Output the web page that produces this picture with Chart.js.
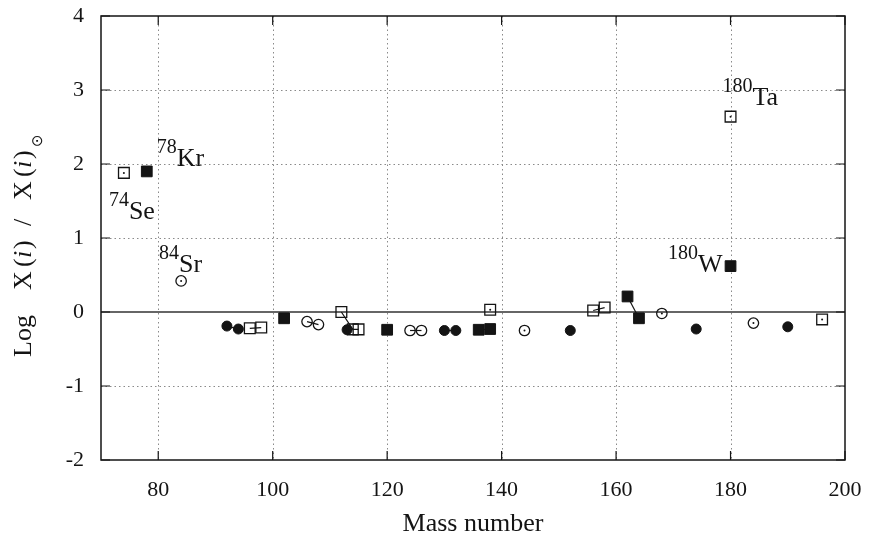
<!DOCTYPE html>
<html><head><meta charset="utf-8">
<script src="https://cdn.jsdelivr.net/npm/chart.js@4/dist/chart.umd.min.js"></script>
<style>html,body{margin:0;padding:0;background:#fff}canvas{display:block}</style>
</head><body>
<canvas id="c" width="869" height="545"></canvas>
<script>
// ---- data ----
const elements   = ['Se','Kr','Sr','Mo','Mo','Ru','Ru','Pd','Cd','Cd','Sn','In','Sn','Sn','Te','Xe','Xe','Ba','Ba','Ce','Ce','La','Sm','Gd','Dy','Dy','Er','Er','Yb','Hf','W','Ta','Os','Pt','Hg'];
const massNumber = [74,78,84,92,94,96,98,102,106,108,112,113,114,115,120,124,126,130,132,136,138,138,144,152,156,158,162,164,168,174,180,180,184,190,196];
const logRatio   = [1.88,1.90,0.42,-0.19,-0.23,-0.22,-0.21,-0.085,-0.13,-0.17,0.0,-0.24,-0.235,-0.235,-0.24,-0.25,-0.25,-0.25,-0.25,-0.24,-0.23,0.03,-0.25,-0.25,0.02,0.06,0.21,-0.085,-0.02,-0.23,0.62,2.64,-0.15,-0.2,-0.1];
// symbol class: 1 open square, 2 filled square, 3 open circle, 4 filled circle
const symbolClass = [1,2,3,4,4,1,1,2,3,3,1,4,1,1,2,3,3,4,4,2,2,1,3,4,1,1,2,2,3,4,2,1,3,4,1];
const xTickValues = [80,100,120,140,160,180,200];
const yTickValues = [-2,-1,0,1,2,3,4];
const labelElements = ['Kr','Se','Sr','Ta','W'];
const labelMass     = [78,74,84,180,180];

// ---- styles ----
const INK = '#141414';
const SERIF = '"Liberation Serif", "Times New Roman", serif';
const styleFor = {
  1: {pointStyle:'rect',   pointRadius:7.6, pointBackgroundColor:'rgba(0,0,0,0)', pointBorderColor:INK, pointBorderWidth:1.3},
  2: {pointStyle:'rect',   pointRadius:7.6, pointBackgroundColor:INK, pointBorderColor:INK, pointBorderWidth:1},
  3: {pointStyle:'circle', pointRadius:5.2, pointBackgroundColor:'rgba(0,0,0,0)', pointBorderColor:INK, pointBorderWidth:1.3},
  4: {pointStyle:'circle', pointRadius:5.0, pointBackgroundColor:INK, pointBorderColor:INK, pointBorderWidth:1}
};

// group by element (same element isotopes are joined by a line)
const groups = [];
elements.forEach((el, i) => {
  let g = groups.find(g => g.el === el);
  if (!g) { g = {el, idx: []}; groups.push(g); }
  g.idx.push(i);
});
const datasets = groups.map(g => Object.assign({
  label: g.el,
  data: g.idx.map(i => ({x: massNumber[i], y: logRatio[i]})),
  showLine: g.idx.length > 1,
  borderColor: INK, borderWidth: 1.2,
  pointHoverRadius: 0
}, styleFor[symbolClass[g.idx[0]]]));
// centre dots of isolated open symbols
const dotIdx = groups.filter(g => g.idx.length === 1 && (symbolClass[g.idx[0]] === 1 || symbolClass[g.idx[0]] === 3)).map(g => g.idx[0]);
datasets.push({
  label: 'dots', data: dotIdx.map(i => ({x: massNumber[i], y: logRatio[i]})),
  showLine: false, pointStyle: 'circle', pointRadius: 1, pointBackgroundColor: INK, pointBorderColor: INK, pointBorderWidth: 0
});

const frame = {
  id: 'frame',
  beforeDatasetsDraw(chart) {
    const {ctx, chartArea: a, scales: {x, y}} = chart;
    ctx.save();
    ctx.strokeStyle = '#8a8a8a'; ctx.lineWidth = 1; ctx.setLineDash([1.5, 3]);
    xTickValues.forEach(v => {
      if (v <= x.min || v >= x.max) return;
      const p = Math.round(x.getPixelForValue(v)) + 0.5;
      ctx.beginPath(); ctx.moveTo(p, a.top); ctx.lineTo(p, a.bottom); ctx.stroke();
    });
    yTickValues.forEach(v => {
      if (v <= y.min || v >= y.max || v === 0) return;
      const p = Math.round(y.getPixelForValue(v)) + 0.5;
      ctx.beginPath(); ctx.moveTo(a.left, p); ctx.lineTo(a.right, p); ctx.stroke();
    });
    ctx.setLineDash([]);
    ctx.strokeStyle = '#333'; ctx.lineWidth = 1.5;
    const z = Math.round(y.getPixelForValue(0));
    ctx.beginPath(); ctx.moveTo(a.left, z); ctx.lineTo(a.right, z); ctx.stroke();
    ctx.restore();
  },
  afterDatasetsDraw(chart) {
    const {ctx, chartArea: a, scales: {x, y}} = chart;
    ctx.save();
    // frame
    ctx.strokeStyle = INK; ctx.lineWidth = 1.5;
    ctx.strokeRect(a.left, a.top, a.right - a.left, a.bottom - a.top);
    // inward ticks
    const TL = 9;
    ctx.lineWidth = 1.2;
    xTickValues.forEach(v => {
      const p = x.getPixelForValue(v);
      ctx.beginPath(); ctx.moveTo(p, a.bottom); ctx.lineTo(p, a.bottom - TL);
      ctx.moveTo(p, a.top); ctx.lineTo(p, a.top + TL); ctx.stroke();
    });
    yTickValues.forEach(v => {
      const p = y.getPixelForValue(v);
      ctx.beginPath(); ctx.moveTo(a.left, p); ctx.lineTo(a.left + TL, p);
      ctx.moveTo(a.right, p); ctx.lineTo(a.right - TL, p); ctx.stroke();
    });
    // isotope labels
    ctx.fillStyle = INK;
    ctx.textBaseline = 'alphabetic'; ctx.textAlign = 'left';
    const offsets = {Kr:[10,-5,'l'], Se:[-15,46,'l'], Sr:[-22,-9,'l'], Ta:[-8,-12,'l'], W:[-8,6,'r']};
    labelElements.forEach((el, k) => {
      const i = elements.findIndex((e, j) => e === el && massNumber[j] === labelMass[k]);
      const px = x.getPixelForValue(massNumber[i]);
      const py = y.getPixelForValue(logRatio[i]);
      const [dx, dy, al] = offsets[el];
      ctx.font = '20px ' + SERIF;
      const sup = String(labelMass[k]);
      const w1 = ctx.measureText(sup).width;
      ctx.font = '26px ' + SERIF;
      const w2 = ctx.measureText(el).width;
      let left = px + dx;
      if (al === 'r') left = px + dx - w1 - w2;
      const base = py + dy;
      ctx.font = '20px ' + SERIF;
      ctx.fillText(sup, left, base - 13);
      ctx.font = '26px ' + SERIF;
      ctx.fillText(el, left + w1, base);
    });
    // x title
    ctx.font = '26px ' + SERIF; ctx.textAlign = 'center';
    ctx.fillText('Mass number', (a.left + a.right) / 2, 531);
    // y title (rotated)
    ctx.translate(31, 357); ctx.rotate(-Math.PI / 2);
    ctx.textAlign = 'left';
    const segs = [
      ['Log', 0, 'n'], ['X', 67, 'n'], ['(', 90, 'n'], ['i', 99, 'i'], [')', 108, 'n'],
      ['/', 131, 'n'], ['X', 157, 'n'], ['(', 180, 'n'], ['i', 189, 'i'], [')', 198, 'n']
    ];
    segs.forEach(([t, s, f]) => {
      ctx.font = (f === 'i' ? 'italic ' : '') + '26px ' + SERIF;
      ctx.fillText(t, s, 0);
    });
    ctx.font = '15px "DejaVu Sans"';
    ctx.fillText('\u2299', 210, 11);
    ctx.restore();
  }
};

new Chart(document.getElementById('c'), {
  type: 'scatter',
  data: {datasets},
  plugins: [frame],
  options: {
    responsive: false, animation: false, devicePixelRatio: 1,
    layout: {padding: {left: 0, right: 24, top: 16, bottom: 0}},
    plugins: {legend: {display: false}, tooltip: {enabled: false}},
    events: [],
    scales: {
      x: {
        type: 'linear', min: 70, max: 200,
        afterBuildTicks: s => { s.ticks = xTickValues.map(v => ({value: v})); },
        afterFit: s => { s.height = 85; s.paddingLeft = 0; s.paddingRight = 0; },
        grid: {display: false, drawTicks: false}, border: {display: false},
        ticks: {font: {family: SERIF, size: 22}, color: INK, padding: 17, maxRotation: 0}
      },
      y: {
        type: 'linear', min: -2, max: 4,
        afterBuildTicks: s => { s.ticks = yTickValues.map(v => ({value: v})); },
        afterFit: s => { s.width = 101; s.paddingTop = 0; s.paddingBottom = 0; },
        grid: {display: false, drawTicks: false}, border: {display: false},
        ticks: {font: {family: SERIF, size: 22}, color: INK, padding: 17}
      }
    }
  }
});
</script>
</body></html>
